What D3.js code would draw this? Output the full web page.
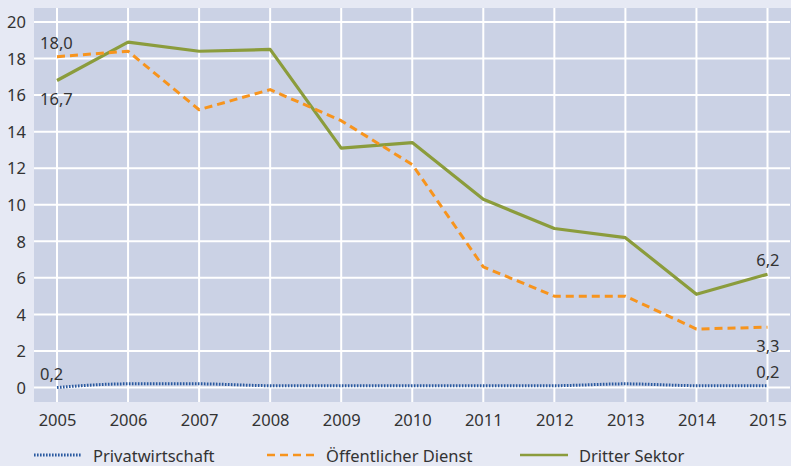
<!DOCTYPE html>
<html><head><meta charset="utf-8">
<script src="https://cdn.jsdelivr.net/npm/d3@7"></script>
<style>body{margin:0;background:#e6e9f4;}svg{display:block;}</style>
</head><body>
<svg id="c" width="791" height="466"></svg>
<script>
const years = [2005,2006,2007,2008,2009,2010,2011,2012,2013,2014,2015];
const privat = [0.0,0.2,0.2,0.1,0.1,0.1,0.1,0.1,0.2,0.1,0.1];
const oeffentlich = [18.1,18.4,15.2,16.3,14.6,12.2,6.6,5.0,5.0,3.2,3.3];
const dritter = [16.8,18.9,18.4,18.5,13.1,13.4,10.3,8.7,8.2,5.1,6.2];
const yTicks = [0,2,4,6,8,10,12,14,16,18,20];
const seriesNames = ["Privatwirtschaft","Öffentlicher Dienst","Dritter Sektor"];
const labels = [
  {year:2005, text:"18,0", series:1, pos:"above"},
  {year:2005, text:"16,7", series:2, pos:"below"},
  {year:2005, text:"0,2", series:0, pos:"above"},
  {year:2015, text:"6,2", series:2, pos:"above"},
  {year:2015, text:"3,3", series:1, pos:"below"},
  {year:2015, text:"0,2", series:0, pos:"above"}
];

const svg = d3.select("#c");
const font = "'Noto Sans', 'Open Sans', sans-serif";
const txt = "#333333";
const W = 791, H = 466;
svg.append("rect").attr("width",W).attr("height",H).attr("fill","#e6e9f4");

const plot = {left:34, right:791, top:8, bottom:402};
const x = d3.scaleLinear().domain([2005,2015]).range([57,767.5]);
const y = d3.scaleLinear().domain([0,20]).range([387.5,22]);

svg.append("rect").attr("x",plot.left).attr("y",plot.top)
  .attr("width",plot.right-plot.left).attr("height",plot.bottom-plot.top)
  .attr("fill","#cbd2e5");

// grid
const g = svg.append("g");
g.selectAll("line.h").data(yTicks).join("line")
  .attr("x1",plot.left).attr("x2",plot.right-1)
  .attr("y1",d=>y(d)).attr("y2",d=>y(d))
  .attr("stroke","#ffffff").attr("stroke-width",2);
g.selectAll("line.v").data(years).join("line")
  .attr("x1",d=>x(d)).attr("x2",d=>x(d))
  .attr("y1",plot.top).attr("y2",plot.bottom)
  .attr("stroke","#ffffff").attr("stroke-width",2);

// axes (tick labels only)
const yAxis = d3.axisLeft(y).tickValues(yTicks).tickSize(0).tickPadding(0).tickFormat(d3.format("d"));
const ya = svg.append("g").attr("transform","translate(26,0)").call(yAxis);
ya.select(".domain").remove();
ya.selectAll("text").attr("font-family",font).attr("font-size",16.5).attr("fill",txt).attr("dy","0.35em");

const xAxis = d3.axisBottom(x).tickValues(years).tickSize(0).tickPadding(0).tickFormat(d3.format("d"));
const xa = svg.append("g").attr("transform","translate(0,426)").call(xAxis);
xa.select(".domain").remove();
xa.selectAll("text").attr("font-family",font).attr("font-size",16.5).attr("fill",txt).attr("dy",0);

// lines
const data = [privat, oeffentlich, dritter];
const styles = [
  {color:"#2b5aa0", width:3, dash:"1.6,1.4"},
  {color:"#f7941d", width:3, dash:"8,5"},
  {color:"#8b9c3c", width:3.2, dash:null}
];
const line = d3.line().x((d,i)=>x(years[i])).y(d=>y(d));
const lineSmooth = d3.line().x((d,i)=>x(years[i])).y(d=>y(d)).curve(d3.curveMonotoneX);
[2,1,0].forEach(si=>{
  svg.append("path").datum(data[si])
    .attr("d", si===0 ? lineSmooth : line)
    .attr("fill","none").attr("stroke",styles[si].color)
    .attr("stroke-width",styles[si].width)
    .attr("stroke-dasharray",styles[si].dash)
    .attr("stroke-linejoin","round");
});

// data labels
labels.forEach(l=>{
  const v = data[l.series][years.indexOf(l.year)];
  const px = x(l.year), py = y(v);
  const left = l.year===2005;
  svg.append("text")
    .attr("x", left ? px-17 : px+12)
    .attr("y", l.pos==="above" ? py-8 : py+25)
    .attr("text-anchor", left ? "start" : "end")
    .attr("font-family",font).attr("font-size",16.5).attr("fill",txt)
    .text(l.text);
});

// legend
const legendX = [34, 267, 520];
seriesNames.forEach((n,i)=>{
  svg.append("line").attr("x1",legendX[i]).attr("x2",legendX[i]+48)
    .attr("y1",455).attr("y2",455)
    .attr("stroke",styles[i].color).attr("stroke-width",i===0?3:2.5)
    .attr("stroke-dasharray",styles[i].dash);
  svg.append("text").attr("x",legendX[i]+59).attr("y",461.5)
    .attr("font-family",font).attr("font-size",16.5).attr("fill",txt).text(n);
});
</script>
</body></html>
